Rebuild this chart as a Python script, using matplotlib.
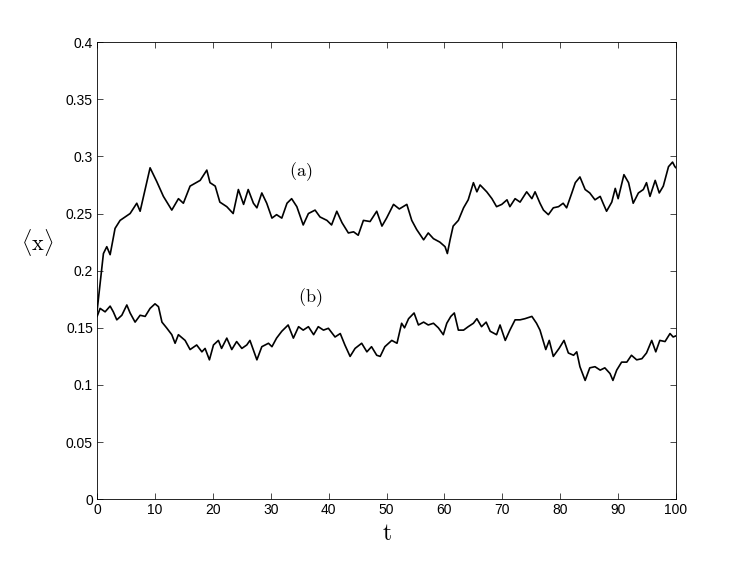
import matplotlib
matplotlib.use("Agg")
import matplotlib.pyplot as plt
import numpy as np

# curve (a)
t_a = [0, 1.09, 1.67, 2.25, 3.1, 3.97, 5.7, 6.85, 7.43, 9.15, 10.3, 11.45, 12.9,
       14.05, 14.9, 16.06, 17.8, 18.95, 19.5, 20.4, 21.2, 22.4, 23.5, 24.4, 25.3,
       26.1, 27.0, 27.6, 28.45, 29.3, 30.2, 31.0, 31.9, 32.8, 33.6, 34.5, 35.6,
       36.5, 37.65, 38.5, 39.7, 40.5, 41.4, 42.3, 43.4, 44.3, 45.1, 46.0, 47.15,
       48.3, 49.2, 50.0, 51.2, 52.2, 53.5, 54.35, 55.2, 56.4, 57.2, 58.1, 59.2,
       60.1, 60.5, 60.97, 61.5, 62.4, 63.3, 64.1, 65.0, 65.6, 66.15, 67.3, 68.2,
       69.0, 69.9, 70.8, 71.3, 72.2, 73.06, 74.2, 75.1, 75.65, 76.5, 77.1, 77.95,
       78.8, 79.7, 80.5, 81.1, 82.0, 82.6, 83.4, 84.3, 85.1, 86.0, 86.9, 87.4,
       88.0, 88.9, 89.5, 90.0, 91.0, 91.8, 92.6, 93.5, 94.35, 94.9, 95.5, 96.4,
       97.1, 97.8, 98.7, 99.4, 99.8, 100]
x_a = [0.165, 0.215, 0.221, 0.214, 0.237, 0.244, 0.250, 0.259, 0.252, 0.290,
       0.278, 0.265, 0.253, 0.263, 0.259, 0.274, 0.279, 0.288, 0.277, 0.274,
       0.260, 0.256, 0.250, 0.271, 0.258, 0.271, 0.259, 0.255, 0.268, 0.259,
       0.246, 0.249, 0.246, 0.259, 0.263, 0.256, 0.240, 0.250, 0.253, 0.247,
       0.244, 0.240, 0.252, 0.242, 0.233, 0.234, 0.231, 0.244, 0.243, 0.252,
       0.239, 0.246, 0.258, 0.254, 0.258, 0.244, 0.236, 0.227, 0.233, 0.228,
       0.225, 0.221, 0.215, 0.227, 0.239, 0.244, 0.255, 0.262, 0.277, 0.269,
       0.275, 0.269, 0.263, 0.256, 0.258, 0.262, 0.256, 0.263, 0.260, 0.269,
       0.263, 0.269, 0.259, 0.253, 0.249, 0.255, 0.256, 0.259, 0.255, 0.268,
       0.277, 0.282, 0.271, 0.268, 0.262, 0.265, 0.259, 0.252, 0.260, 0.272,
       0.263, 0.284, 0.277, 0.259, 0.268, 0.271, 0.277, 0.265, 0.279, 0.268,
       0.274, 0.291, 0.295, 0.291, 0.290]

# curve (b)
t_b = [0, 0.52, 1.38, 2.25, 2.8, 3.4, 4.27, 5.13, 5.7, 6.56, 7.43, 8.3, 9.15,
       10.0, 10.6, 11.2, 12.0, 12.9, 13.47, 14.04, 15.2, 16.06, 17.2, 18.1,
       18.65, 19.4, 20.1, 20.95, 21.5, 22.4, 23.26, 24.1, 25.0, 25.85, 26.4,
       27.6, 28.45, 29.6, 30.2, 31.0, 31.9, 33.0, 33.9, 34.8, 35.6, 36.5, 37.4,
       38.2, 39.1, 39.95, 41.1, 42.0, 42.8, 43.7, 44.56, 45.7, 46.6, 47.4, 48.3,
       48.9, 49.7, 50.9, 51.8, 52.6, 53.1, 53.8, 54.75, 55.5, 56.4, 57.2, 58.1,
       58.95, 59.8, 60.4, 61.1, 61.7, 62.4, 63.3, 64.1, 65.0, 65.6, 66.4, 67.2,
       67.9, 69.0, 69.6, 70.5, 71.3, 72.2, 73.06, 73.9, 75.1, 75.9, 76.5, 77.5,
       78.1, 78.8, 79.8, 80.65, 81.4, 82.3, 82.85, 83.4, 84.3, 85.1, 86.0, 86.9,
       87.7, 88.6, 89.1, 89.75, 90.6, 91.5, 92.3, 93.2, 94.1, 94.9, 95.8, 96.5,
       97.2, 98.1, 98.96, 99.5, 100]
x_b = [0.160, 0.167, 0.164, 0.169, 0.164, 0.157, 0.161, 0.170, 0.163, 0.155,
       0.161, 0.160, 0.167, 0.171, 0.1685, 0.155, 0.150, 0.144, 0.1365, 0.144,
       0.139, 0.131, 0.135, 0.129, 0.132, 0.122, 0.135, 0.139, 0.132, 0.141,
       0.131, 0.138, 0.132, 0.135, 0.139, 0.122, 0.1335, 0.1365, 0.1335, 0.141,
       0.147, 0.1525, 0.141, 0.151, 0.148, 0.151, 0.144, 0.151, 0.148, 0.1496,
       0.142, 0.145, 0.135, 0.125, 0.132, 0.1365, 0.129, 0.1335, 0.126, 0.125,
       0.1335, 0.139, 0.1365, 0.154, 0.150, 0.158, 0.163, 0.1525, 0.155, 0.1525,
       0.154, 0.150, 0.144, 0.154, 0.160, 0.163, 0.148, 0.148, 0.151, 0.154,
       0.158, 0.151, 0.155, 0.147, 0.144, 0.1525, 0.139, 0.148, 0.157, 0.157,
       0.158, 0.160, 0.154, 0.148, 0.131, 0.139, 0.125, 0.132, 0.139, 0.128,
       0.126, 0.129, 0.116, 0.104, 0.115, 0.116, 0.113, 0.115, 0.110, 0.104,
       0.113, 0.120, 0.120, 0.126, 0.122, 0.123, 0.128, 0.139, 0.129, 0.139,
       0.138, 0.145, 0.142, 0.143]

xticks = np.arange(0, 101, 10)
yticks = [0, 0.05, 0.1, 0.15, 0.2, 0.25, 0.3, 0.35, 0.4]
ytick_labels = ["0", "0.05", "0.1", "0.15", "0.2", "0.25", "0.3", "0.35", "0.4"]

plt.rcParams['font.family'] = ['Liberation Sans', 'DejaVu Sans']
plt.rcParams['mathtext.fontset'] = 'cm'

fig = plt.figure(figsize=(7.47, 5.61), dpi=100)
ax = fig.add_axes([0.13, 0.11, 0.775, 0.815])

ax.plot(t_a, x_a, color='k', lw=1.2)
ax.plot(t_b, x_b, color='k', lw=1.2)

ax.text(35.1, 0.2867, r'$\mathrm{(a)}$', fontsize=13, ha='center', va='center')
ax.text(36.8, 0.176, r'$\mathrm{(b)}$', fontsize=13, ha='center', va='center')

ax.set_xlim(0, 100)
ax.set_ylim(0, 0.4)
ax.set_xticks(xticks)
ax.set_yticks(yticks)
ax.set_yticklabels(ytick_labels)
ax.tick_params(direction='in', top=True, right=True, length=4.5, width=0.5,
               labelsize=10, pad=3)
for s in ax.spines.values():
    s.set_linewidth(0.6)

ax.set_xlabel(r'$\mathrm{t}$', fontsize=17)
ax.xaxis.set_label_coords(0.5, -0.052)
ax.set_ylabel(r'$\langle\mathrm{x}\rangle$', fontsize=16, rotation=0, va='center')
ax.yaxis.set_label_coords(-0.104, 0.561)

fig.savefig("out.png", dpi=100)
